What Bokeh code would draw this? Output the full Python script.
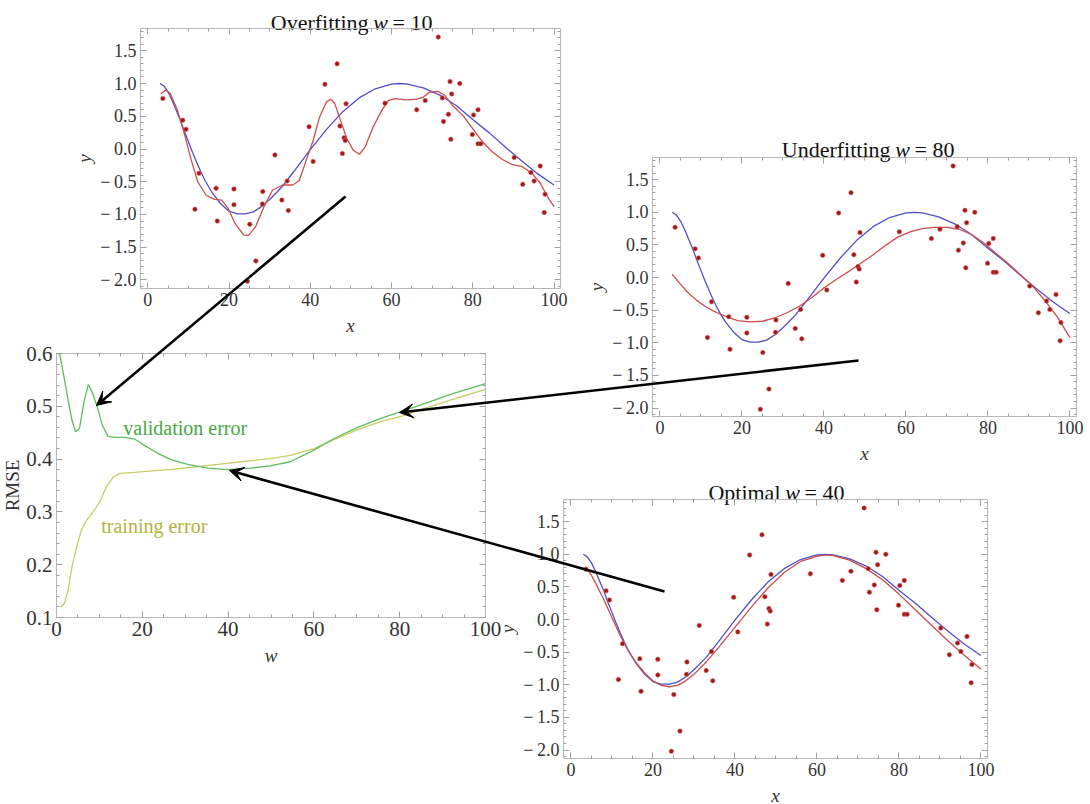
from bokeh.plotting import figure
from bokeh.models import Range1d, LinearAxis, FixedTicker, CustomJSTickFormatter, Arrow, VeeHead
from bokeh.core.properties import value
from bokeh.embed import file_html
from bokeh.resources import INLINE

# ---------------- data ----------------
pts_x = [3.7, 8.6, 9.4, 12.6, 11.6, 16.8, 17.1, 21.2, 21.2, 25.1, 24.5, 26.6, 28.3, 28.2, 31.3, 33.0,
         34.3, 34.6, 39.7, 40.7, 43.6, 46.6, 48.8, 47.3, 48.3, 48.6, 47.9, 58.4, 66.2, 68.3, 71.5, 72.5,
         74.4, 74.8, 74.0, 72.8, 74.6, 76.8, 80.2, 79.9, 81.3, 81.3, 82.0, 90.2, 92.3, 94.3, 95.1, 96.6,
         97.8, 97.6]
pts_y = [0.77, 0.44, 0.30, -0.37, -0.92, -0.60, -1.10, -0.61, -0.85, -1.15, -2.02, -1.71, -0.65, -0.84,
         -0.09, -0.78, -0.49, -0.94, 0.34, -0.19, 0.99, 1.30, 0.69, 0.35, 0.17, 0.13, -0.07, 0.70, 0.60,
         0.74, 1.71, 0.78, 1.03, 0.84, 0.53, 0.42, 0.15, 1.00, 0.52, 0.22, 0.60, 0.08, 0.08, -0.13, -0.54,
         -0.36, -0.49, -0.26, -0.69, -0.97]

true_x = [3, 4, 5, 6, 7, 8, 9, 10, 11, 12, 13, 14, 15, 16, 18, 20, 22, 24, 26, 28, 30, 33, 36, 40, 44,
          48, 52, 56, 60, 62, 64, 68, 72, 76, 80, 84, 88, 92, 96, 100]
true_y = [1.00, 0.96, 0.87, 0.74, 0.59, 0.44, 0.27, 0.11, -0.05, -0.20, -0.34, -0.47, -0.58, -0.68, -0.84,
          -0.95, -0.99, -0.99, -0.96, -0.88, -0.77, -0.58, -0.34, -0.01, 0.30, 0.57, 0.78, 0.92, 0.99,
          1.00, 0.99, 0.93, 0.82, 0.66, 0.45, 0.25, 0.03, -0.18, -0.38, -0.55]

over_x = [3.2, 4.4, 5.5, 7.3, 9.0, 10.7, 12.3, 14.4, 16.5, 18.2, 19.8, 21.5, 23.6, 24.8, 26.5, 28.6, 30.7,
          33.2, 35.7, 37.3, 39.0, 40.7, 42.3, 44.0, 45.0, 46.0, 47.3, 49.0, 50.6, 52.1, 53.5, 55.5, 57.6,
          59.2, 60.8, 63.7, 66.1, 67.8, 69.4, 71.4, 73.1, 75.1, 77.6, 80.0, 82.4, 84.9, 87.3, 89.8, 92.2,
          94.7, 96.7, 98.4, 100.0]
over_y = [0.84, 0.90, 0.85, 0.59, 0.23, -0.17, -0.50, -0.71, -0.77, -0.78, -0.91, -1.14, -1.31, -1.32,
          -1.19, -0.88, -0.63, -0.55, -0.55, -0.48, -0.17, 0.13, 0.49, 0.72, 0.76, 0.70, 0.46, 0.16, -0.02,
          -0.08, 0.03, 0.34, 0.59, 0.74, 0.77, 0.75, 0.76, 0.79, 0.87, 0.88, 0.82, 0.66, 0.51, 0.31, 0.11,
          -0.05, -0.16, -0.24, -0.27, -0.38, -0.53, -0.73, -0.88]

under_x = [3, 5, 7, 9, 11, 13, 15, 17, 19, 22, 25, 28, 31, 34, 37, 40, 43, 46, 49, 52, 55, 58, 61, 64, 67,
           70, 73, 76, 79, 82, 85, 88, 91, 94, 97, 100]
under_y = [0.05, -0.10, -0.24, -0.35, -0.44, -0.51, -0.57, -0.62, -0.66, -0.68, -0.67, -0.62, -0.54, -0.44,
           -0.31, -0.16, -0.03, 0.09, 0.22, 0.35, 0.49, 0.62, 0.70, 0.75, 0.77, 0.77, 0.74, 0.66, 0.53, 0.37,
           0.21, 0.04, -0.14, -0.36, -0.61, -0.92]

opt_x = [3.6, 5, 6.5, 8, 10, 12, 14, 16, 18, 20, 22, 24, 26, 28, 30, 33, 36, 40, 44, 48, 52, 56, 60, 62,
         64, 68, 72, 76, 80, 84, 88, 92, 96, 100]
opt_y = [0.81, 0.68, 0.50, 0.31, 0.03, -0.24, -0.48, -0.67, -0.82, -0.94, -1.01, -1.03, -1.01, -0.94, -0.84,
         -0.65, -0.43, -0.12, 0.19, 0.48, 0.72, 0.89, 0.97, 0.99, 0.98, 0.91, 0.78, 0.61, 0.39, 0.15, -0.09,
         -0.33, -0.55, -0.76]

w_val = [0.5, 0.8, 1.6, 2.7, 3.6, 4.4, 5.0, 5.4, 6.4, 7.4, 8.3, 9.5, 10.7, 12.0, 13.6, 15.9, 18.2, 20.5,
         23.6, 26.7, 30.6, 35.3, 39.9, 45.3, 49.8, 54.5, 60.0, 64.7, 70.2, 75.6, 80.3, 85.8, 92.0, 100.0]
rmse_val = [0.600, 0.597, 0.562, 0.512, 0.474, 0.452, 0.455, 0.460, 0.508, 0.541, 0.527, 0.499, 0.464,
            0.443, 0.441, 0.441, 0.438, 0.426, 0.411, 0.399, 0.390, 0.383, 0.380, 0.383, 0.387, 0.395,
            0.417, 0.439, 0.460, 0.477, 0.490, 0.505, 0.523, 0.543]

w_train = [1.0, 1.9, 2.7, 3.6, 4.7, 5.8, 7.0, 8.5, 10.1, 11.6, 13.2, 14.7, 18.2, 22.9, 27.5, 32.2, 37.6,
           43.0, 49.8, 54.5, 60.0, 64.7, 70.2, 75.6, 80.3, 85.8, 92.0, 100.0]
rmse_train = [0.120, 0.127, 0.152, 0.196, 0.234, 0.265, 0.284, 0.300, 0.319, 0.347, 0.366, 0.373, 0.375,
              0.378, 0.381, 0.385, 0.390, 0.395, 0.401, 0.407, 0.420, 0.437, 0.456, 0.471, 0.481, 0.496,
              0.512, 0.532]

fit_titles = ["Overfitting", "Underfitting", "Optimal"]
fit_w = [10, 80, 40]
x_ticks = [0, 20, 40, 60, 80, 100]
y_ticks_fit = [-2.0, -1.5, -1.0, -0.5, 0.0, 0.5, 1.0, 1.5]
y_ticks_rmse = [0.1, 0.2, 0.3, 0.4, 0.5, 0.6]

# ---------------- styling / layout ----------------
W, H = 1090, 804
OX, OY = 0, 0
FONT = "Liberation Serif"
FRAME = "#b8b8b8"
TICKC = "#a0a0a0"
LABC = "#333333"
RED = "#cc4c4c"
BLUE = "#4f4fcc"
PT = "#a31515"
GREEN = "#5dbd5d"
YELLOW = "#c9cc66"

p = figure(width=W, height=H, x_range=Range1d(OX, OX + W), y_range=Range1d(OY + H, OY),
           x_axis_type=None, y_axis_type=None, output_backend="svg", toolbar_location=None,
           min_border=0, outline_line_color=None)
p.background_fill_color = "white"
p.border_fill_color = "white"

# panel frames in page pixels: (left, right), (bottom, top); data extents
FIT_DX = (-1.8, 101.6)
FIT_DY = (-2.13, 1.84)
panels = {
    "over": dict(px=(140, 560), py=(288, 28), dx=FIT_DX, dy=FIT_DY),
    "under": dict(px=(652, 1076), py=(416, 157), dx=FIT_DX, dy=FIT_DY),
    "opt": dict(px=(563, 987), py=(758, 499), dx=FIT_DX, dy=FIT_DY),
    "rmse": dict(px=(56, 485), py=(617, 353), dx=(0, 100), dy=(0.1, 0.6)),
}


def rng(d0, d1, p0, p1, P0, P1):
    s = (d1 - d0) / (p1 - p0)
    return Range1d(d0 + (P0 - p0) * s, d0 + (P1 - p0) * s)


xr, yr = {}, {}
for k, v in panels.items():
    xr[k + "x"] = rng(v["dx"][0], v["dx"][1], v["px"][0], v["px"][1], OX, OX + W)
    yr[k + "y"] = rng(v["dy"][0], v["dy"][1], v["py"][0], v["py"][1], OY + H, OY)
p.extra_x_ranges = xr
p.extra_y_ranges = yr

XF = "return tick.toFixed(0);"
YF = "const s = Math.abs(tick).toFixed(1); return (tick < -1e-9 ? '\\u2212\\u2009' : '') + s;"
NF = "return '';"


def frange(a, b, step):
    out = []
    n = int(round((b - a) / step))
    for i in range(n + 1):
        out.append(round(a + i * step, 4))
    return out


def add_axes(k, xt, xm, yt, ym, xlab, ylab, xstyle, ystyle, xlab_stand, ylab_stand, fs, lfs):
    v = panels[k]
    dx, dy = v["dx"], v["dy"]
    common = dict(x_range_name=k + "x", y_range_name=k + "y",
                  axis_line_color=FRAME, axis_line_width=1,
                  major_tick_line_color=TICKC, minor_tick_line_color=TICKC,
                  major_tick_in=6, major_tick_out=0, minor_tick_in=3, minor_tick_out=0,
                  major_label_text_font=FONT, major_label_text_font_size=fs,
                  major_label_text_color=LABC, major_label_standoff=4,
                  axis_label_text_font=FONT, axis_label_text_font_size=lfs,
                  axis_label_text_color=LABC)
    b = LinearAxis(ticker=FixedTicker(ticks=xt, minor_ticks=xm), formatter=CustomJSTickFormatter(code=XF),
                   fixed_location=dy[0], bounds=dx, axis_label=xlab, axis_label_text_font_style=xstyle,
                   axis_label_standoff=xlab_stand, **common)
    t = LinearAxis(ticker=FixedTicker(ticks=xt, minor_ticks=xm), formatter=CustomJSTickFormatter(code=NF),
                   fixed_location=dy[1], bounds=dx, **common)
    l = LinearAxis(ticker=FixedTicker(ticks=yt, minor_ticks=ym), formatter=CustomJSTickFormatter(code=YF),
                   fixed_location=dx[0], bounds=dy, axis_label=ylab, axis_label_text_font_style=ystyle,
                   axis_label_standoff=ylab_stand, **common)
    r = LinearAxis(ticker=FixedTicker(ticks=yt, minor_ticks=ym), formatter=CustomJSTickFormatter(code=NF),
                   fixed_location=dx[1], bounds=dy, **common)
    p.add_layout(b, "below")
    p.add_layout(t, "above")
    p.add_layout(l, "left")
    p.add_layout(r, "right")


x_minor = frange(0, 100, 5)
y_minor_fit = frange(-2.1, 1.8, 0.1)
y_minor_rmse = frange(0.1, 0.6, 0.02)

for k in ["over", "under", "opt"]:
    add_axes(k, x_ticks, x_minor, y_ticks_fit, y_minor_fit, "x", "y", "italic", "italic", 6, 2,
             "18px", "19px")
add_axes("rmse", x_ticks, x_minor, y_ticks_rmse, y_minor_rmse, "w", "RMSE", "italic", "normal", 6, 0,
         "21px", "19px")

# ---------------- data marks ----------------
fits = {"over": (over_x, over_y), "under": (under_x, under_y), "opt": (opt_x, opt_y)}
for k, (fx, fy) in fits.items():
    kw = dict(x_range_name=k + "x", y_range_name=k + "y")
    p.line(true_x, true_y, line_color=BLUE, line_width=1.3, **kw)
    p.line(fx, fy, line_color=RED, line_width=1.3, **kw)
    p.scatter(pts_x, pts_y, size=4.5, fill_color=PT, line_color="#d46a6a", line_width=0.6, **kw)

kw = dict(x_range_name="rmsex", y_range_name="rmsey")
p.line(w_train, rmse_train, line_color=YELLOW, line_width=1.3, **kw)
p.line(w_val, rmse_val, line_color=GREEN, line_width=1.3, **kw)
p.text(x=[30.0], y=[0.459], text=["validation error"], text_color="#45a845", text_font=value(FONT),
       text_font_size=value("20px"), text_align="center", text_baseline="alphabetic", **kw)
p.text(x=[22.8], y=[0.273], text=["training error"], text_color="#b4b33c", text_font=value(FONT),
       text_font_size=value("20px"), text_align="center", text_baseline="alphabetic", **kw)

# ---------------- titles (page pixel positions of the italic w) ----------------
title_x = [380, 902, 792]
title_y = [22, 149, 492]
tkw = dict(text_color="#111111", text_font=value(FONT), text_font_size=value("22px"),
           text_baseline="alphabetic")
p.text(x=title_x, y=title_y, text=fit_titles, text_align="right", x_offset=-12, **tkw)
p.text(x=title_x, y=title_y, text=["w"] * 3, text_align="center", text_font_style="italic", **tkw)
p.text(x=title_x, y=title_y, text=["= %d" % v for v in fit_w], text_align="left", x_offset=12, **tkw)

# ---------------- arrows (page pixels) ----------------
arrows = [((345, 196), (96, 405)), ((858, 360), (399, 412)), ((664, 591), (229, 470))]
for (xs, ys), (xe, ye) in arrows:
    p.add_layout(Arrow(x_start=xs, y_start=ys, x_end=xe, y_end=ye, line_width=2.6, line_color="black",
                       end=VeeHead(size=14, fill_color="black", line_color="black", line_width=1)))

open("out.html", "w").write(file_html(p, INLINE))
